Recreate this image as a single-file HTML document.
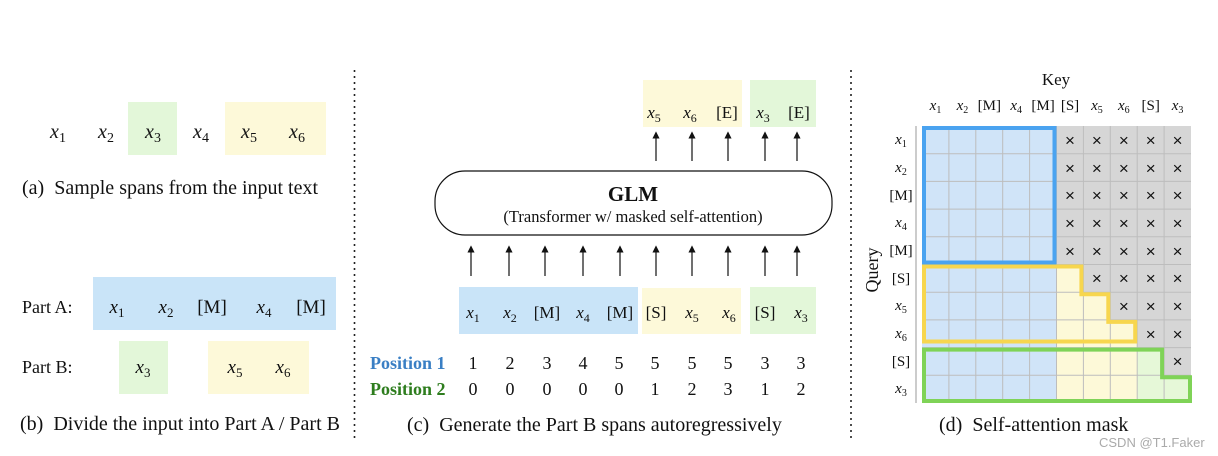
<!DOCTYPE html>
<html><head><meta charset="utf-8"><style>
html,body{margin:0;padding:0;background:#fff;}
svg{display:block;}
text{font-family:"Liberation Serif",serif;fill:#111;}
.m{font-style:italic;}
.cap{font-size:20px;}
.sans{font-family:"Liberation Sans",sans-serif;}
</style></head><body>
<svg width="1218" height="456" viewBox="0 0 1218 456" xmlns="http://www.w3.org/2000/svg">
<defs><marker id="ah" markerWidth="6" markerHeight="6" refX="3" refY="3" orient="auto"><path d="M0,0 L6,3 L0,6 Z" fill="#111"/></marker></defs>
<line x1="354.5" y1="70" x2="354.5" y2="438" stroke="#222" stroke-width="1.6" stroke-dasharray="2,4"/>
<line x1="851" y1="70" x2="851" y2="438" stroke="#222" stroke-width="1.6" stroke-dasharray="2,4"/>

<!-- Panel a -->
<rect x="128" y="102" width="49" height="53" fill="#e3f7d9"/>
<rect x="225" y="102" width="101" height="53" fill="#fdf9d9"/>
<g font-size="20" text-anchor="middle">
<text x="58" y="138"><tspan class="m">x</tspan><tspan font-size="14" dy="4">1</tspan></text>
<text x="106" y="138"><tspan class="m">x</tspan><tspan font-size="14" dy="4">2</tspan></text>
<text x="153" y="138"><tspan class="m">x</tspan><tspan font-size="14" dy="4">3</tspan></text>
<text x="201" y="138"><tspan class="m">x</tspan><tspan font-size="14" dy="4">4</tspan></text>
<text x="249" y="138"><tspan class="m">x</tspan><tspan font-size="14" dy="4">5</tspan></text>
<text x="297" y="138"><tspan class="m">x</tspan><tspan font-size="14" dy="4">6</tspan></text>
</g>
<text x="22" y="194" class="cap" xml:space="preserve">(a)  Sample spans from the input text</text>

<!-- Panel b -->
<rect x="93" y="277" width="243" height="53" fill="#c9e4f8"/>
<rect x="119" y="341" width="49" height="53" fill="#e3f7d9"/>
<rect x="208" y="341" width="101" height="53" fill="#fdf9d9"/>
<text x="22" y="313" font-size="18">Part A:</text>
<text x="22" y="373" font-size="18">Part B:</text>
<g font-size="19" text-anchor="middle">
<text x="117" y="313"><tspan class="m">x</tspan><tspan font-size="13" dy="4">1</tspan></text>
<text x="166" y="313"><tspan class="m">x</tspan><tspan font-size="13" dy="4">2</tspan></text>
<text x="212" y="313">[M]</text>
<text x="264" y="313"><tspan class="m">x</tspan><tspan font-size="13" dy="4">4</tspan></text>
<text x="311" y="313">[M]</text>
<text x="143" y="373"><tspan class="m">x</tspan><tspan font-size="13" dy="4">3</tspan></text>
<text x="235" y="373"><tspan class="m">x</tspan><tspan font-size="13" dy="4">5</tspan></text>
<text x="283" y="373"><tspan class="m">x</tspan><tspan font-size="13" dy="4">6</tspan></text>
</g>
<text x="20" y="430" class="cap" xml:space="preserve">(b)  Divide the input into Part A / Part B</text>

<!-- Panel c -->
<rect x="643" y="80" width="99" height="47" fill="#fdf9d9"/>
<rect x="750" y="80" width="66" height="47" fill="#e3f7d9"/>
<g font-size="17" text-anchor="middle">
<text x="654" y="118"><tspan class="m">x</tspan><tspan font-size="12" dy="4">5</tspan></text>
<text x="690" y="118"><tspan class="m">x</tspan><tspan font-size="12" dy="4">6</tspan></text>
<text x="727" y="118">[E]</text>
<text x="763" y="118"><tspan class="m">x</tspan><tspan font-size="12" dy="4">3</tspan></text>
<text x="799" y="118">[E]</text>
</g>
<g stroke="#111" stroke-width="1.2" marker-end="url(#ah)">
<line x1="656" y1="161" x2="656" y2="135"/><line x1="692" y1="161" x2="692" y2="135"/><line x1="728" y1="161" x2="728" y2="135"/><line x1="765" y1="161" x2="765" y2="135"/><line x1="797" y1="161" x2="797" y2="135"/>
<line x1="471" y1="276" x2="471" y2="249"/><line x1="509" y1="276" x2="509" y2="249"/><line x1="545" y1="276" x2="545" y2="249"/><line x1="583" y1="276" x2="583" y2="249"/><line x1="620" y1="276" x2="620" y2="249"/><line x1="656" y1="276" x2="656" y2="249"/><line x1="692" y1="276" x2="692" y2="249"/><line x1="728" y1="276" x2="728" y2="249"/><line x1="765" y1="276" x2="765" y2="249"/><line x1="797" y1="276" x2="797" y2="249"/>
</g>
<rect x="435" y="171" width="397" height="64" rx="30" ry="30" fill="#fff" stroke="#111" stroke-width="1.2"/>
<text x="633" y="201" font-size="21" font-weight="bold" text-anchor="middle">GLM</text>
<text x="633" y="222" font-size="16.5" text-anchor="middle">(Transformer w/ masked self-attention)</text>
<rect x="459" y="287" width="179" height="47" fill="#c9e4f8"/>
<rect x="642" y="288" width="99" height="46" fill="#fdf9d9"/>
<rect x="750" y="287" width="66" height="47" fill="#e3f7d9"/>
<g font-size="17" text-anchor="middle">
<text x="473" y="318"><tspan class="m">x</tspan><tspan font-size="12" dy="4">1</tspan></text>
<text x="510" y="318"><tspan class="m">x</tspan><tspan font-size="12" dy="4">2</tspan></text>
<text x="547" y="318">[M]</text>
<text x="583" y="318"><tspan class="m">x</tspan><tspan font-size="12" dy="4">4</tspan></text>
<text x="620" y="318">[M]</text>
<text x="656" y="318">[S]</text>
<text x="692" y="318"><tspan class="m">x</tspan><tspan font-size="12" dy="4">5</tspan></text>
<text x="729" y="318"><tspan class="m">x</tspan><tspan font-size="12" dy="4">6</tspan></text>
<text x="765" y="318">[S]</text>
<text x="801" y="318"><tspan class="m">x</tspan><tspan font-size="12" dy="4">3</tspan></text>
</g>
<text x="370" y="369" font-size="18" font-weight="bold" style="fill:#3a7fc4">Position 1</text>
<text x="370" y="395" font-size="18" font-weight="bold" style="fill:#2e7d1e">Position 2</text>
<g font-size="18" text-anchor="middle">
<text x="473" y="369">1</text><text x="510" y="369">2</text><text x="547" y="369">3</text><text x="583" y="369">4</text><text x="619" y="369">5</text><text x="655" y="369">5</text><text x="692" y="369">5</text><text x="728" y="369">5</text><text x="765" y="369">3</text><text x="801" y="369">3</text>
<text x="473" y="395">0</text><text x="510" y="395">0</text><text x="547" y="395">0</text><text x="583" y="395">0</text><text x="619" y="395">0</text><text x="655" y="395">1</text><text x="692" y="395">2</text><text x="728" y="395">3</text><text x="765" y="395">1</text><text x="801" y="395">2</text>
</g>
<text x="407" y="431" class="cap" xml:space="preserve">(c)  Generate the Part B spans autoregressively</text>

<!-- Panel d -->
<text x="1056" y="85" font-size="17" text-anchor="middle">Key</text>
<g font-size="15" text-anchor="middle">
<text x="935.5" y="110"><tspan class="m">x</tspan><tspan font-size="10" dy="3">1</tspan></text>
<text x="962.4" y="110"><tspan class="m">x</tspan><tspan font-size="10" dy="3">2</tspan></text>
<text x="989.3" y="110">[M]</text>
<text x="1016.2" y="110"><tspan class="m">x</tspan><tspan font-size="10" dy="3">4</tspan></text>
<text x="1043.1" y="110">[M]</text>
<text x="1070" y="110">[S]</text>
<text x="1096.9" y="110"><tspan class="m">x</tspan><tspan font-size="10" dy="3">5</tspan></text>
<text x="1123.8" y="110"><tspan class="m">x</tspan><tspan font-size="10" dy="3">6</tspan></text>
<text x="1150.7" y="110">[S]</text>
<text x="1177.6" y="110"><tspan class="m">x</tspan><tspan font-size="10" dy="3">3</tspan></text>
</g>
<g font-size="15" text-anchor="middle">
<text x="901" y="144"><tspan class="m">x</tspan><tspan font-size="10" dy="3">1</tspan></text>
<text x="901" y="172"><tspan class="m">x</tspan><tspan font-size="10" dy="3">2</tspan></text>
<text x="901" y="200">[M]</text>
<text x="901" y="227"><tspan class="m">x</tspan><tspan font-size="10" dy="3">4</tspan></text>
<text x="901" y="255">[M]</text>
<text x="901" y="283">[S]</text>
<text x="901" y="310"><tspan class="m">x</tspan><tspan font-size="10" dy="3">5</tspan></text>
<text x="901" y="338"><tspan class="m">x</tspan><tspan font-size="10" dy="3">6</tspan></text>
<text x="901" y="366">[S]</text>
<text x="901" y="393"><tspan class="m">x</tspan><tspan font-size="10" dy="3">3</tspan></text>
</g>
<text transform="translate(878,270) rotate(-90)" font-size="18" text-anchor="middle">Query</text>
<line x1="916" y1="126" x2="916" y2="403" stroke="#999" stroke-width="1"/>
<rect x="922" y="126" width="134.5" height="277" fill="#d0e4f8"/>
<rect x="1056.5" y="126" width="134.5" height="277" fill="#d6d6d6"/>
<polygon points="1056.5,264.5 1083.4,264.5 1083.4,292.2 1110.3,292.2 1110.3,319.9 1137.2,319.9 1137.2,403 1056.5,403" fill="#fdf9d8"/>
<polygon points="1137.2,347.6 1164.1,347.6 1164.1,375.3 1191,375.3 1191,403 1137.2,403" fill="#e6f8d8"/>
<g stroke="#bdbdbd" stroke-width="1">
<line x1="948.9" y1="126" x2="948.9" y2="403"/><line x1="975.8" y1="126" x2="975.8" y2="403"/><line x1="1002.7" y1="126" x2="1002.7" y2="403"/><line x1="1029.6" y1="126" x2="1029.6" y2="403"/><line x1="1056.5" y1="126" x2="1056.5" y2="403"/><line x1="1083.4" y1="126" x2="1083.4" y2="403"/><line x1="1110.3" y1="126" x2="1110.3" y2="403"/><line x1="1137.2" y1="126" x2="1137.2" y2="403"/><line x1="1164.1" y1="126" x2="1164.1" y2="403"/>
<line x1="922" y1="153.7" x2="1191" y2="153.7"/><line x1="922" y1="181.4" x2="1191" y2="181.4"/><line x1="922" y1="209.1" x2="1191" y2="209.1"/><line x1="922" y1="236.8" x2="1191" y2="236.8"/><line x1="922" y1="264.5" x2="1191" y2="264.5"/><line x1="922" y1="292.2" x2="1191" y2="292.2"/><line x1="922" y1="319.9" x2="1191" y2="319.9"/><line x1="922" y1="347.6" x2="1191" y2="347.6"/><line x1="922" y1="375.3" x2="1191" y2="375.3"/>
</g>
<g font-size="17" text-anchor="middle" class="sans">
<text class="sans" x="1070" y="146">×</text><text class="sans" x="1096.9" y="146">×</text><text class="sans" x="1123.8" y="146">×</text><text class="sans" x="1150.7" y="146">×</text><text class="sans" x="1177.6" y="146">×</text>
<text class="sans" x="1070" y="174">×</text><text class="sans" x="1096.9" y="174">×</text><text class="sans" x="1123.8" y="174">×</text><text class="sans" x="1150.7" y="174">×</text><text class="sans" x="1177.6" y="174">×</text>
<text class="sans" x="1070" y="201">×</text><text class="sans" x="1096.9" y="201">×</text><text class="sans" x="1123.8" y="201">×</text><text class="sans" x="1150.7" y="201">×</text><text class="sans" x="1177.6" y="201">×</text>
<text class="sans" x="1070" y="229">×</text><text class="sans" x="1096.9" y="229">×</text><text class="sans" x="1123.8" y="229">×</text><text class="sans" x="1150.7" y="229">×</text><text class="sans" x="1177.6" y="229">×</text>
<text class="sans" x="1070" y="257">×</text><text class="sans" x="1096.9" y="257">×</text><text class="sans" x="1123.8" y="257">×</text><text class="sans" x="1150.7" y="257">×</text><text class="sans" x="1177.6" y="257">×</text>
<text class="sans" x="1096.9" y="284">×</text><text class="sans" x="1123.8" y="284">×</text><text class="sans" x="1150.7" y="284">×</text><text class="sans" x="1177.6" y="284">×</text>
<text class="sans" x="1123.8" y="312">×</text><text class="sans" x="1150.7" y="312">×</text><text class="sans" x="1177.6" y="312">×</text>
<text class="sans" x="1150.7" y="340">×</text><text class="sans" x="1177.6" y="340">×</text>
<text class="sans" x="1177.6" y="367">×</text>
</g>
<rect x="924" y="128" width="130.5" height="134.5" fill="none" stroke="#4aa3f0" stroke-width="4"/>
<polygon points="924,266.5 1081.4,266.5 1081.4,294.2 1108.3,294.2 1108.3,321.9 1135.2,321.9 1135.2,341.5 924,341.5" fill="none" stroke="#f7d64e" stroke-width="4"/>
<polygon points="924,349.6 1162.1,349.6 1162.1,377.3 1190,377.3 1190,401 924,401" fill="none" stroke="#7fd357" stroke-width="4"/>
<text x="939" y="431" class="cap" xml:space="preserve">(d)  Self-attention mask</text>
<text x="1099" y="447" font-size="13" class="sans" style="fill:#aaa">CSDN @T1.Faker</text>
</svg>
</body></html>
